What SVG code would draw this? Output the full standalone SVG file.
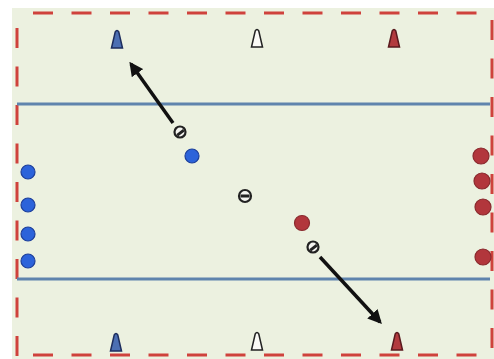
<svg xmlns="http://www.w3.org/2000/svg" width="494" height="359" viewBox="0 0 494 359">
<defs>
<style>
.bound{stroke:#CF423C;stroke-width:3;fill:none;stroke-dasharray:20 18.5}
.lane{stroke:#5F84AD;stroke-width:3;fill:none}
.blue{fill:#2C63DA;stroke:#1D3F9A;stroke-width:1.2}
.red{fill:#B2363C;stroke:#8A2A2E;stroke-width:1.2}
.ball{fill:#F4F4F0;stroke:#222;stroke-width:2.2}
.pat{fill:#222}
.arrow{stroke:#111;stroke-width:3.5;fill:none;marker-end:url(#ah)}
.coneB{fill:#4C6FB3;stroke:#1E2E5E;stroke-width:1.5}
.coneW{fill:#FAFAF6;stroke:#222;stroke-width:1.5}
.coneR{fill:#B23A3E;stroke:#5A1A1E;stroke-width:1.5}
</style>
<marker id="ah" viewBox="0 0 10 10" refX="8" refY="5" markerWidth="4" markerHeight="4" orient="auto" markerUnits="strokeWidth">
<path d="M0,0 L10,5 L0,10 Z" fill="#111"/>
</marker>
<path id="cone" d="M-5.5,9 L-1.8,-7 Q0,-10 1.8,-7 L5.5,9 Z"/>
</defs>
<rect x="0" y="0" width="494" height="359" fill="#FFFFFF"/>
<rect x="12" y="8" width="482" height="351" fill="#ECF1E0"/>
<g id="boundary">
<line class="bound" x1="33" y1="13" x2="494" y2="13"/>
<line class="bound" x1="33" y1="355" x2="494" y2="355"/>
<line class="bound" x1="17" y1="28" x2="17" y2="359"/>
<line class="bound" x1="492" y1="20" x2="492" y2="359"/>
</g>
<g id="lanes">
<line class="lane" x1="17" y1="104" x2="490" y2="104"/>
<line class="lane" x1="17" y1="279" x2="490" y2="279"/>
</g>
<g id="cone-top-blue"><use href="#cone" class="coneB" x="117" y="39"/></g>
<g id="cone-top-white"><use href="#cone" class="coneW" x="257" y="38"/></g>
<g id="cone-top-red"><use href="#cone" class="coneR" x="394" y="38"/></g>
<g id="cone-bottom-blue"><use href="#cone" class="coneB" x="116" y="342"/></g>
<g id="cone-bottom-white"><use href="#cone" class="coneW" x="257" y="341"/></g>
<g id="cone-bottom-red"><use href="#cone" class="coneR" x="397" y="341"/></g>
<g id="connectors">
<line class="arrow" x1="173" y1="123" x2="131" y2="64"/>
<line class="arrow" x1="320" y1="257" x2="380" y2="322"/>
</g>
<g id="ball-top"><circle class="ball" cx="180" cy="132" r="5.5"/><path class="pat" d="M176.5,134 L183,129 L184.5,131.5 L178,136.5 Z"/></g>
<g id="ball-middle"><circle class="ball" cx="245" cy="196" r="6"/><rect class="pat" x="240.5" y="194.5" width="9" height="3"/></g>
<g id="ball-bottom"><circle class="ball" cx="313" cy="247" r="5.5"/><path class="pat" d="M309.5,249 L316,244 L317.5,246.5 L311,251.5 Z"/></g>
<g id="blue-player"><circle class="blue" cx="192" cy="156" r="7"/></g>
<g id="red-player"><circle class="red" cx="302" cy="223" r="7.5"/></g>
<g id="blue-queue">
<circle class="blue" cx="28" cy="172" r="7"/>
<circle class="blue" cx="28" cy="205" r="7"/>
<circle class="blue" cx="28" cy="234" r="7"/>
<circle class="blue" cx="28" cy="261" r="7"/>
</g>
<g id="red-queue">
<circle class="red" cx="481" cy="156" r="8"/>
<circle class="red" cx="482" cy="181" r="8"/>
<circle class="red" cx="483" cy="207" r="8"/>
<circle class="red" cx="483" cy="257" r="8"/>
</g>
</svg>
